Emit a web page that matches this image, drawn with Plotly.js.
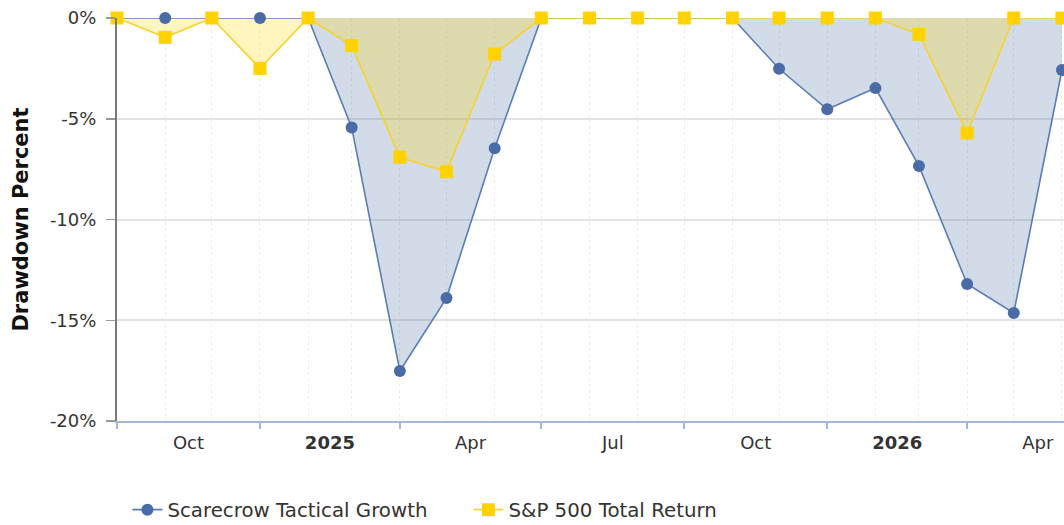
<!DOCTYPE html>
<html><head><meta charset="utf-8">
<script src="https://cdn.plot.ly/plotly-3.0.1.min.js"></script>
<style>html,body{margin:0;padding:0;background:#fff}#chart{width:1064px;height:525px}</style>
</head><body><div id="chart"></div>
<script>
const dates = ['2024-10-01','2024-11-01','2024-12-01','2025-01-01','2025-02-01','2025-03-01','2025-04-01',
  '2025-05-01','2025-06-01','2025-07-01','2025-08-01','2025-09-01','2025-10-01','2025-11-01','2025-12-01',
  '2026-01-01','2026-02-01','2026-03-01','2026-04-01','2026-05-01','2026-06-01'];
const scarecrow = [0, 0, 0, 0, 0, -5.43, -17.52, -13.9, -6.46, 0, 0, 0, 0, 0, -2.52, -4.53, -3.48, -7.34, -13.2, -14.64, -2.58];
const sp500 = [0, -0.96, 0, -2.5, 0, -1.37, -6.91, -7.63, -1.79, 0, 0, 0, 0, 0, 0, 0, 0, -0.81, -5.71, 0, 0];
const seriesNames = ['Scarecrow Tactical Growth', 'S&P 500 Total Return'];
const quarterStarts = ['2024-10-01','2025-01-01','2025-04-01','2025-07-01','2025-10-01','2026-01-01','2026-04-01','2026-07-01'];
const quarterLabels = ['Oct','<b>2025</b>','Apr','Jul','Oct','<b>2026</b>','Apr'];
const yTicks = [0, -5, -10, -15, -20];
const yTickLabels = ['0%', '-5%', '-10%', '-15%', '-20%'];

const FONT = 'Verdana, "DejaVu Sans", sans-serif';
const xRange = ['2024-10-01', '2026-06-02 08:00'];
const labelPos = quarterLabels.map((_, i) => (Date.parse(quarterStarts[i]) + Date.parse(quarterStarts[i+1])) / 2);
const tickPos = quarterStarts.slice(0, quarterLabels.length);

const traces = [
  {x: dates, y: scarecrow, type: 'scatter', mode: 'none', fill: 'tozeroy',
   fillcolor: 'rgba(74,111,165,0.25)', showlegend: false, hoverinfo: 'skip'},
  {x: dates, y: sp500, type: 'scatter', mode: 'none', fill: 'tozeroy',
   fillcolor: 'rgba(255,215,0,0.25)', showlegend: false, hoverinfo: 'skip'},
  {x: dates, y: scarecrow, name: seriesNames[0], type: 'scatter', mode: 'lines+markers',
   line: {color: '#5a7db3', width: 1.6},
   marker: {symbol: 'circle', size: 12, color: '#4a6ca6'},
   cliponaxis: false},
  {x: dates, y: sp500, name: seriesNames[1], type: 'scatter', mode: 'lines+markers',
   line: {color: '#f8d22e', width: 1.6},
   marker: {symbol: 'square', size: 13, color: '#ffd200'},
   cliponaxis: false},
  {x: labelPos, y: labelPos.map(() => null), xaxis: 'x2', yaxis: 'y', type: 'scatter', mode: 'none',
   showlegend: false, hoverinfo: 'skip'}
];

const layout = {
  width: 1064, height: 525,
  margin: {l: 117, r: 0, t: 18, b: 104},
  paper_bgcolor: '#fff', plot_bgcolor: '#fff',
  font: {family: FONT, size: 18, color: '#333'},
  showlegend: true,
  legend: {orientation: 'h', xref: 'paper', x: 0.011, xanchor: 'left',
    yref: 'container', y: 0.029, yanchor: 'middle',
    entrywidth: 296, entrywidthmode: 'pixels',
    font: {family: FONT, size: 19.8, color: '#333'}, traceorder: 'normal'},
  xaxis: {
    type: 'date', range: xRange, automargin: false,
    tickmode: 'array', tickvals: tickPos, ticktext: tickPos.map(() => ''),
    ticks: 'outside', ticklen: 6, tickwidth: 2, tickcolor: '#a5b8d6',
    showline: true, linecolor: '#a5b8d6', linewidth: 2,
    showgrid: true, gridcolor: '#ebebeb', gridwidth: 1, griddash: 'dot',
    minor: {tickmode: 'array', tickvals: dates, showgrid: true, gridcolor: '#ebebeb', gridwidth: 1, griddash: 'dot', ticks: ''},
    zeroline: false, fixedrange: true
  },
  xaxis2: {
    type: 'date', range: xRange, overlaying: 'x', anchor: 'y', side: 'bottom', automargin: false,
    tickmode: 'array', tickvals: labelPos, ticktext: quarterLabels,
    ticks: '', showline: false, showgrid: false, zeroline: false,
    ticklabelstandoff: 9,
    tickfont: {family: FONT, size: 18, color: '#333'}, fixedrange: true
  },
  yaxis: {
    range: [-20, 0], automargin: false,
    tickmode: 'array', tickvals: yTicks, ticktext: yTickLabels,
    ticks: 'outside', ticklen: 9, tickwidth: 1.5, tickcolor: '#999',
    ticklabelstandoff: 6,
    tickfont: {family: FONT, size: 18, color: '#333'},
    showline: true, linecolor: '#7a7a7a', linewidth: 2,
    showgrid: true, gridcolor: '#e3e3e3', gridwidth: 2, zeroline: false,
    title: {text: 'Drawdown Percent', font: {family: FONT, size: 21, color: '#111', weight: 'bold'}, standoff: 16},
    fixedrange: true
  }
};

Plotly.newPlot('chart', traces, layout, {displayModeBar: false, staticPlot: true});
</script>
</body></html>
